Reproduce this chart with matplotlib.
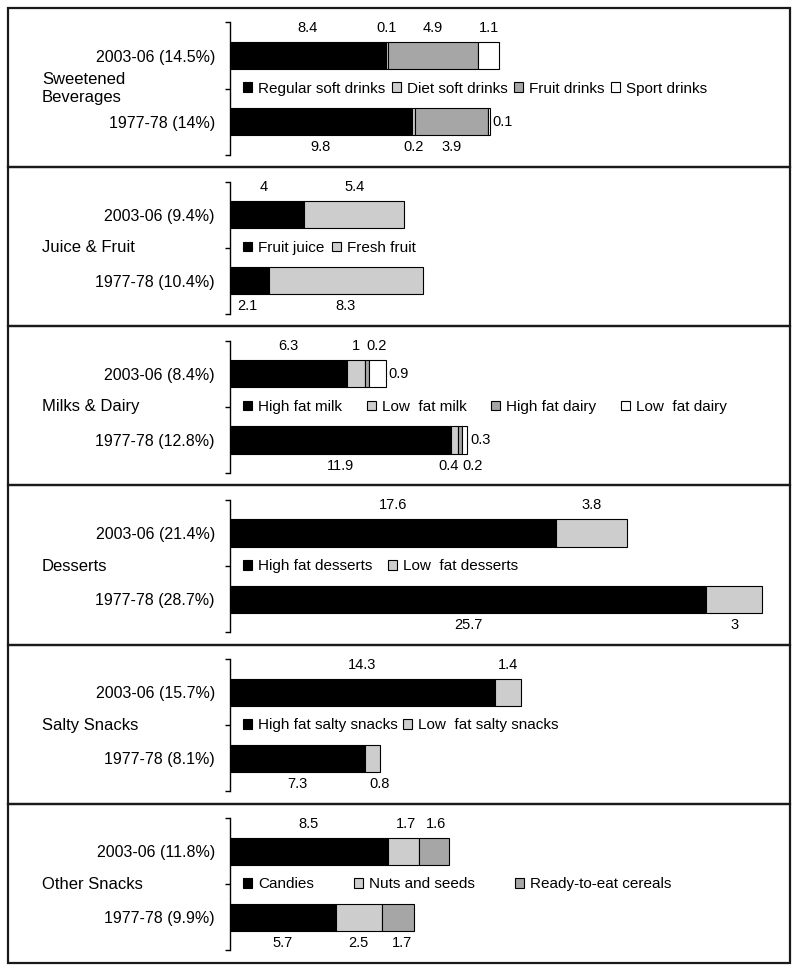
import matplotlib
matplotlib.use('Agg')
import matplotlib.pyplot as plt
from matplotlib.patches import Rectangle

plt.rcParams['font.family'] = ['Liberation Sans', 'DejaVu Sans']

# ---------------- data ----------------
periods = ['2003-06', '1977-78']

bev_group = 'Sweetened\nBeverages'
bev_shares = ['14.5%', '14%']
bev_series = ['Regular soft drinks', 'Diet soft drinks', 'Fruit drinks', 'Sport drinks']
bev_2003 = [8.4, 0.1, 4.9, 1.1]
bev_1977 = [9.8, 0.2, 3.9, 0.1]

juice_group = 'Juice & Fruit'
juice_shares = ['9.4%', '10.4%']
juice_series = ['Fruit juice', 'Fresh fruit']
juice_2003 = [4, 5.4]
juice_1977 = [2.1, 8.3]

milk_group = 'Milks & Dairy'
milk_shares = ['8.4%', '12.8%']
milk_series = ['High fat milk', 'Low  fat milk', 'High fat dairy', 'Low  fat dairy']
milk_2003 = [6.3, 1, 0.2, 0.9]
milk_1977 = [11.9, 0.4, 0.2, 0.3]

dessert_group = 'Desserts'
dessert_shares = ['21.4%', '28.7%']
dessert_series = ['High fat desserts', 'Low  fat desserts']
dessert_2003 = [17.6, 3.8]
dessert_1977 = [25.7, 3]

salty_group = 'Salty Snacks'
salty_shares = ['15.7%', '8.1%']
salty_series = ['High fat salty snacks', 'Low  fat salty snacks']
salty_2003 = [14.3, 1.4]
salty_1977 = [7.3, 0.8]

other_group = 'Other Snacks'
other_shares = ['11.8%', '9.9%']
other_series = ['Candies', 'Nuts and seeds', 'Ready-to-eat cereals']
other_2003 = [8.5, 1.7, 1.6]
other_1977 = [5.7, 2.5, 1.7]

# ---------------- styles ----------------
BLACK, LIGHT, DARK, WHITE = '#000000', '#cdcdcd', '#a6a6a6', '#ffffff'

panels = [
    dict(group=bev_group, shares=bev_shares, series=bev_series, rows=[bev_2003, bev_1977],
         colors=[BLACK, LIGHT, DARK, WHITE], colsp=0.4,
         right=[[], [3]], dx=[{}, {}]),
    dict(group=juice_group, shares=juice_shares, series=juice_series, rows=[juice_2003, juice_1977],
         colors=[BLACK, LIGHT], colsp=0.45,
         right=[[], []], dx=[{0: -3}, {0: -2}]),
    dict(group=milk_group, shares=milk_shares, series=milk_series, rows=[milk_2003, milk_1977],
         colors=[BLACK, LIGHT, DARK, WHITE], colsp=1.6,
         right=[[3], [3]], dx=[{2: 9}, {1: -6, 2: 13}]),
    dict(group=dessert_group, shares=dessert_shares, series=dessert_series, rows=[dessert_2003, dessert_1977],
         colors=[BLACK, LIGHT], colsp=1.0,
         right=[[], []], dx=[{}, {}]),
    dict(group=salty_group, shares=salty_shares, series=salty_series, rows=[salty_2003, salty_1977],
         colors=[BLACK, LIGHT], colsp=0.3,
         right=[[], []], dx=[{}, {1: 7}]),
    dict(group=other_group, shares=other_shares, series=other_series, rows=[other_2003, other_1977],
         colors=[BLACK, LIGHT, DARK], colsp=2.6,
         right=[[], []], dx=[{1: 3, 2: 2}, {2: 4}]),
]

W, H = 800, 972
fig = plt.figure(figsize=(W / 100, H / 100), dpi=100)

box_left, box_right, box_top, box_bottom = 8, 790, 8, 963
ph = (box_bottom - box_top) / len(panels)
ax_left, ax_right = 230, 790
px_per_unit = 18.54
xmax = (ax_right - ax_left) / px_per_unit
bar_h = 0.41
PT = 0.72  # points per pixel at 100 dpi

for i, p in enumerate(panels):
    ptop = box_top + i * ph
    pbot = ptop + ph
    fig.add_artist(Rectangle((box_left / W, 1 - pbot / H), (box_right - box_left) / W, ph / H,
                             transform=fig.transFigure, fill=False, lw=1.6, ec='#1a1a1a'))
    a_top = ptop + 14.5
    a_bot = pbot - 12.5
    ax = fig.add_axes([ax_left / W, 1 - a_bot / H, (ax_right - ax_left) / W, (a_bot - a_top) / H])
    ax.set_xlim(0, xmax)
    ax.set_ylim(2, 0)
    for s in ['top', 'right', 'bottom']:
        ax.spines[s].set_visible(False)
    ax.spines['left'].set_linewidth(1.0)
    ax.set_xticks([])
    ax.set_yticks([0, 1, 2])
    ax.set_yticklabels([])
    ax.tick_params(axis='y', which='major', length=3.6, width=1.0, direction='out')
    ax.set_yticks([0.5, 1.5], minor=True)
    ax.set_yticklabels([f'{per} ({sh})' for per, sh in zip(periods, p['shares'])], minor=True)
    ax.tick_params(axis='y', which='minor', length=0, pad=10.8, labelsize=11.5)
    ax.patch.set_alpha(0)

    for r, vals in enumerate(p['rows']):
        y = r + 0.5
        left = 0
        for k, v in enumerate(vals):
            ax.barh(y, v, left=left, height=bar_h, color=p['colors'][k], edgecolor='black',
                    linewidth=0.8, zorder=3)
            c = left + v / 2
            lab = f'{v:g}'
            if k in p['right'][r]:
                ax.annotate(lab, xy=(left + v, y), xytext=(3 * PT, 0), textcoords='offset points',
                            ha='left', va='center', fontsize=10.5)
            else:
                dxp = p['dx'][r].get(k, 0) * PT
                if r == 0:
                    ax.annotate(lab, xy=(c, y - bar_h / 2), xytext=(dxp, 14 * PT),
                                textcoords='offset points', ha='center', va='center', fontsize=10.5)
                else:
                    ax.annotate(lab, xy=(c, y + bar_h / 2), xytext=(dxp, -12 * PT),
                                textcoords='offset points', ha='center', va='center', fontsize=10.5)
            left += v

    handles = [Rectangle((0, 0), 1, 1, fc=c, ec='black', lw=0.8) for c in p['colors']]
    ax.legend(handles, p['series'], loc='center left', bbox_to_anchor=(13 / (ax_right - ax_left), 0.5),
              ncol=len(p['series']), frameon=False, handlelength=0.6, handleheight=0.6,
              handletextpad=0.4, columnspacing=p['colsp'], borderpad=0, borderaxespad=0, fontsize=11)

    ymid = (a_top + a_bot) / 2
    fig.text(42 / W, 1 - ymid / H, p['group'], ha='left', va='center', fontsize=12, linespacing=1.2)

fig.savefig('out.png', dpi=100)
